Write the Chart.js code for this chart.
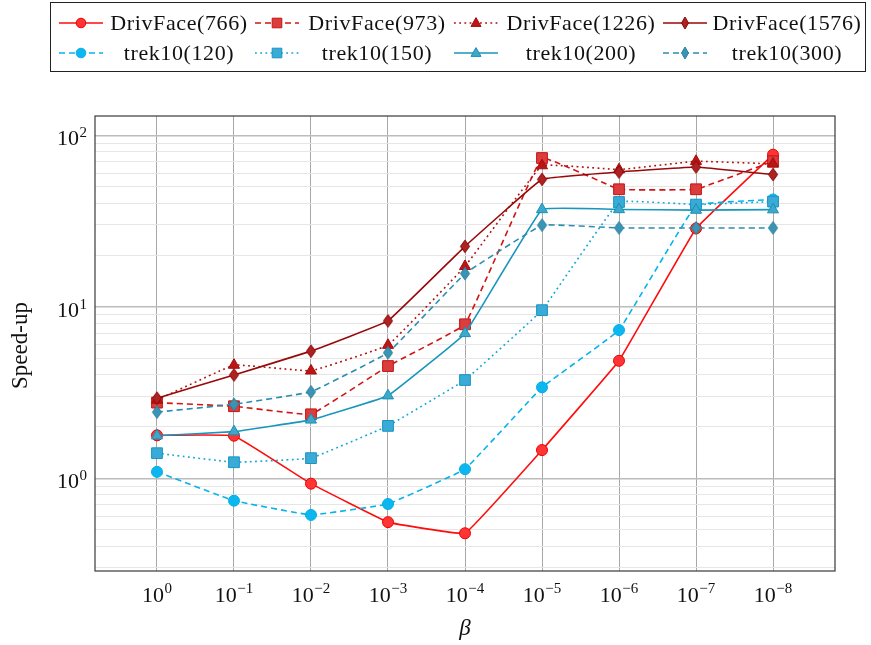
<!DOCTYPE html>
<html lang="en">
<head>
  <meta charset="UTF-8">
  <title>Speed-up vs beta</title>
  <script src="https://cdn.jsdelivr.net/npm/chart.js"></script>
  <style>
    body {
      margin: 0;
      background: #fff;
      font-family: 'Liberation Serif', serif;
    }
    #wrap {
      position: relative;
      width: 871px;
      height: 645px;
    }
    #speedChart {
      position: absolute;
      left: 0;
      top: 0;
    }
    #legend {
      position: absolute;
      left: 50px;
      top: 2px;
      width: 816px;
      height: 70px;
      border: 1px solid #222;
      box-sizing: border-box;
    }
    .sample {
      position: absolute;
      width: 44px;
      height: 20px;
    }
    .label {
      position: absolute;
      width: 160px;
      text-align: center;
      font-size: 22px;
      line-height: 24px;
      letter-spacing: 0.6px;
      color: #111;
    }
  </style>
</head>
<body>
  <div id="wrap">
    <canvas id="speedChart" width="871" height="645"></canvas>
    <div id="legend"></div>
  </div>

  <script>
    // beta = 10^-e
    const betaExp = [0, 1, 2, 3, 4, 5, 6, 7, 8];
    const drivFace766  = [1.78, 1.77, 0.93, 0.555, 0.478, 1.46, 4.84, 28.6, 77];
    const drivFace973  = [2.76, 2.63, 2.36, 4.51, 7.9, 73.6, 48.4, 48.4, 70.5];
    const drivFace1226 = [2.86, 4.57, 4.23, 5.97, 17.2, 66.5, 63, 70.5, 68];
    const drivFace1576 = [2.93, 4.0, 5.51, 8.27, 22.5, 55.3, 61, 65.3, 59];
    const trek120 = [1.09, 0.74, 0.611, 0.708, 1.13, 3.39, 7.31, 39, 42.2];
    const trek150 = [1.40, 1.24, 1.31, 2.02, 3.74, 9.55, 40.8, 39.4, 41];
    const trek200 = [1.77, 1.87, 2.19, 3.03, 6.99, 36.9, 36.9, 36.6, 36.8];
    const trek300 = [2.43, 2.70, 3.19, 5.39, 15.6, 29.9, 28.8, 28.8, 28.8];
    const yDecades = [1, 10, 100];
    const yGrid = [0.3, 0.4, 0.5, 0.6, 0.7, 0.8, 0.9, 1, 2, 3, 4, 5, 6, 7, 8, 9, 10, 20, 30, 40, 50, 60, 70, 80, 90, 100];

    const DASHED = [6, 4];
    const DOTTED = [1.8, 3.4];

    function diamondCanvas(fill, stroke) {
      const c = document.createElement('canvas');
      c.width = 12; c.height = 15;
      const g = c.getContext('2d');
      g.beginPath();
      g.moveTo(6, 1.2); g.lineTo(10.6, 7.5); g.lineTo(6, 13.8); g.lineTo(1.4, 7.5);
      g.closePath();
      g.fillStyle = fill; g.fill();
      g.strokeStyle = stroke; g.lineWidth = 1; g.stroke();
      return c;
    }

    const seriesDefs = [
      { label: 'DrivFace(766)',  values: drivFace766,  color: '#ff0d0d', fill: '#ff3535', edge: '#ee0000', dash: [],     shape: 'circle' },
      { label: 'DrivFace(973)',  values: drivFace973,  color: '#d01515', fill: '#db3c3c', edge: '#c41414', dash: DASHED, shape: 'rect' },
      { label: 'DrivFace(1226)', values: drivFace1226, color: '#b30c0c', fill: '#bb1616', edge: '#a80a0a', dash: DOTTED, shape: 'triangle' },
      { label: 'DrivFace(1576)', values: drivFace1576, color: '#980808', fill: '#ad2222', edge: '#8a0505', dash: [],     shape: 'diamond' },
      { label: 'trek10(120)',    values: trek120,      color: '#05b3ec', fill: '#0cb6ee', edge: '#05aee6', dash: DASHED, shape: 'circle' },
      { label: 'trek10(150)',    values: trek150,      color: '#10a6d8', fill: '#3aabd6', edge: '#1795c4', dash: DOTTED, shape: 'rect' },
      { label: 'trek10(200)',    values: trek200,      color: '#1896bd', fill: '#3ea8ca', edge: '#1890b8', dash: [],     shape: 'triangle' },
      { label: 'trek10(300)',    values: trek300,      color: '#2b8db0', fill: '#3a94b4', edge: '#27809f', dash: DASHED, shape: 'diamond' }
    ];

    const radiusFor = { circle: 5.5, rect: 7.6, triangle: 6.4, diamond: 6 };

    const datasets = seriesDefs.map((s, i) => ({
      label: s.label,
      data: s.values.map((v, k) => ({ x: betaExp[k], y: v })),
      borderColor: s.color,
      borderWidth: 1.6,
      borderDash: s.dash,
      tension: 0.06,
      pointStyle: s.shape === 'diamond' ? diamondCanvas(s.fill, s.edge) : s.shape,
      pointRadius: radiusFor[s.shape],
      pointBackgroundColor: s.fill,
      pointBorderColor: s.edge,
      pointBorderWidth: 1,
      order: seriesDefs.length - i
    }));

    function isDecade(v) {
      return Math.abs(Math.log10(v) - Math.round(Math.log10(v))) < 1e-9;
    }

    const SERIF = '"Liberation Serif", serif';

    const framePlugin = {
      id: 'frameAndLabels',
      beforeDatasetsDraw(chart) {
        const { ctx, chartArea: a } = chart;
        ctx.save();
        ctx.strokeStyle = '#3a3a3a';
        ctx.lineWidth = 1.2;
        ctx.strokeRect(a.left, a.top, a.right - a.left, a.bottom - a.top);
        ctx.restore();
      },
      afterDraw(chart) {
        const { ctx, chartArea: a, scales: { x, y } } = chart;
        ctx.save();
        ctx.fillStyle = '#111';
        ctx.textBaseline = 'alphabetic';

        const baseFont = '22px ' + SERIF;
        const supFont = '15px ' + SERIF;
        function power(exp, leftX, baseY, supY) {
          ctx.font = baseFont;
          ctx.textAlign = 'left';
          ctx.fillText('10', leftX, baseY);
          const wb = ctx.measureText('10').width;
          ctx.font = supFont;
          ctx.fillText(exp, leftX + wb + 0.5, supY);
        }
        function powerWidth(exp) {
          ctx.font = baseFont;
          const wb = ctx.measureText('10').width;
          ctx.font = supFont;
          return wb + 0.5 + ctx.measureText(exp).width;
        }

        betaExp.forEach(e => {
          const exp = e === 0 ? '0' : '\u2212' + e;
          const px = x.getPixelForValue(e);
          power(exp, px - powerWidth(exp) / 2, 602, 593);
        });

        yDecades.forEach(v => {
          const exp = String(Math.round(Math.log10(v)));
          const py = y.getPixelForValue(v);
          power(exp, 87 - powerWidth(exp), py + 10, py + 2);
        });

        // axis titles
        ctx.font = '23px ' + SERIF;
        ctx.textAlign = 'center';
        ctx.textBaseline = 'middle';
        ctx.save();
        ctx.translate(21, (a.top + a.bottom) / 2 + 2);
        ctx.rotate(-Math.PI / 2);
        ctx.fillText('Speed-up', 0, 0);
        ctx.restore();

        ctx.font = 'italic 23px ' + SERIF;
        ctx.fillText('\u03b2', (a.left + a.right) / 2, 629);
        ctx.restore();
      }
    };

    new Chart(document.getElementById('speedChart'), {
      type: 'line',
      data: { datasets },
      options: {
        responsive: false,
        animation: false,
        events: [],
        layout: { padding: { top: 116, right: 36, left: 0, bottom: 0 } },
        plugins: { legend: { display: false }, tooltip: { enabled: false } },
        scales: {
          x: {
            type: 'linear',
            min: -0.805,
            max: 8.805,
            afterBuildTicks: s => { s.ticks = betaExp.map(v => ({ value: v })); },
            afterFit: s => { s.height = 74; },
            ticks: { display: false },
            border: { display: false },
            grid: { color: '#a8a8a8', lineWidth: 1, drawTicks: false }
          },
          y: {
            type: 'logarithmic',
            min: 0.288,
            max: 129.4,
            afterBuildTicks: s => { s.ticks = yGrid.map(v => ({ value: v, major: isDecade(v) })); },
            afterFit: s => { s.width = 95; },
            ticks: { display: false },
            border: { display: false },
            grid: {
              color: c => isDecade(c.tick.value) ? '#bcbcbc' : '#e6e6e6',
              lineWidth: c => isDecade(c.tick.value) ? 1.4 : 1,
              drawTicks: false
            }
          }
        }
      },
      plugins: [framePlugin]
    });

    // legend in the box at the top, two rows of four
    const sampleCenters = [80, 276, 475, 684];
    const textCenters = [178, 376, 580, 786];
    const rowCenters = [20, 50];
    const legend = document.getElementById('legend');
    const svgNS = 'http://www.w3.org/2000/svg';

    function markerSvg(shape) {
      if (shape === 'circle') {
        const el = document.createElementNS(svgNS, 'circle');
        el.setAttribute('cx', 22); el.setAttribute('cy', 10); el.setAttribute('r', 4.8);
        return el;
      }
      const el = document.createElementNS(svgNS, 'polygon');
      let pts;
      if (shape === 'rect') pts = '17.2,5.2 26.8,5.2 26.8,14.8 17.2,14.8';
      else if (shape === 'triangle') pts = '22,4.6 27,13.4 17,13.4';
      else pts = '22,4 25.5,10 22,16 18.5,10';
      el.setAttribute('points', pts);
      return el;
    }

    seriesDefs.forEach((s, i) => {
      const row = Math.floor(i / 4), col = i % 4;
      const svg = document.createElementNS(svgNS, 'svg');
      svg.setAttribute('class', 'sample');
      svg.setAttribute('width', 44); svg.setAttribute('height', 20);
      svg.style.left = (sampleCenters[col] - 50 - 22) + 'px';
      svg.style.top = (rowCenters[row] - 10) + 'px';
      const line = document.createElementNS(svgNS, 'line');
      line.setAttribute('x1', 0); line.setAttribute('x2', 44);
      line.setAttribute('y1', 10); line.setAttribute('y2', 10);
      line.setAttribute('stroke', s.color);
      line.setAttribute('stroke-width', 1.6);
      if (s.dash.length) line.setAttribute('stroke-dasharray', s.dash.join(' '));
      svg.appendChild(line);
      const m = markerSvg(s.shape);
      m.setAttribute('fill', s.fill);
      m.setAttribute('stroke', s.edge);
      m.setAttribute('stroke-width', 1);
      svg.appendChild(m);
      legend.appendChild(svg);

      const t = document.createElement('div');
      t.className = 'label';
      t.textContent = s.label;
      t.style.left = (textCenters[col] - 50 - 80) + 'px';
      t.style.top = (rowCenters[row] - 12) + 'px';
      legend.appendChild(t);
    });
  </script>
</body>
</html>
